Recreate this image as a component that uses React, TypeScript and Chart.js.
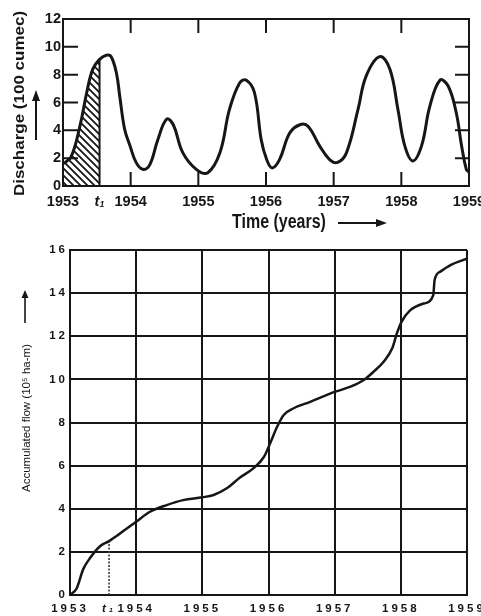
import { useEffect, useRef } from 'react';
import { Chart, registerables } from 'chart.js';

Chart.register(...registerables);

// ---------------- data ----------------
const yearTicks = [1953, 1954, 1955, 1956, 1957, 1958, 1959];
const t1Hydro = 1953.54;
const t1Mass = 1953.59;
const dischargeTicks = [0, 2, 4, 6, 8, 10, 12];
const flowTicks = [0, 2, 4, 6, 8, 10, 12, 14, 16];

const hydroYears = [
  1953.0, 1953.12, 1953.25, 1953.35, 1953.44, 1953.54, 1953.64, 1953.71, 1953.79, 1953.84,
  1953.91, 1953.99, 1954.08, 1954.18, 1954.28, 1954.4, 1954.53, 1954.63, 1954.77, 1954.97,
  1955.14, 1955.32, 1955.46, 1955.61, 1955.71, 1955.83, 1955.93, 1956.01, 1956.09, 1956.2,
  1956.35, 1956.5, 1956.62, 1956.79, 1956.94, 1957.06, 1957.19, 1957.36, 1957.48, 1957.68,
  1957.83, 1957.95, 1958.05, 1958.17, 1958.3, 1958.42, 1958.57, 1958.69, 1958.81, 1958.89,
  1958.96, 1959.0,
];
const hydroDischarge = [
  1.6, 2.1, 4.3, 6.7, 8.4, 9.1, 9.4, 9.3, 8.1, 6.4,
  4.1, 2.9, 1.7, 1.2, 1.5, 3.3, 4.8, 4.4, 2.4, 1.2,
  0.95, 2.4, 5.5, 7.4, 7.6, 6.7, 3.3, 1.9, 1.3, 1.9,
  3.8, 4.4, 4.3, 2.9, 1.9, 1.7, 2.4, 5.5, 7.9, 9.3,
  8.4, 5.5, 2.9, 1.8, 2.9, 5.7, 7.6, 7.2, 5.3, 2.9,
  1.2, 1.0,
];

const massYears = [
  1953.0, 1953.1, 1953.2, 1953.3, 1953.45, 1953.59, 1953.76, 1954.0, 1954.21, 1954.46,
  1954.71, 1955.0, 1955.17, 1955.37, 1955.57, 1955.77, 1955.93, 1956.02, 1956.13, 1956.23,
  1956.38, 1956.63, 1957.01, 1957.24, 1957.44, 1957.59, 1957.74, 1957.87, 1957.94, 1958.01,
  1958.14, 1958.35, 1958.49, 1958.51, 1958.6, 1958.75, 1959.0,
];
const massFlow = [
  0, 0.3, 1.2, 1.7, 2.25, 2.5, 2.86, 3.4, 3.86, 4.17,
  4.4, 4.53, 4.64, 4.95, 5.45, 5.87, 6.4, 7.0, 7.8, 8.35,
  8.66, 8.96, 9.43, 9.66, 9.97, 10.36, 10.82, 11.44, 12.13, 12.67,
  13.2, 13.52, 13.9, 14.6, 15.0, 15.3, 15.6,
];

// ---------------- styling ----------------
const INK = '#161616';
const SANS = "'Liberation Sans', Arial, sans-serif";

const near = (a: number, b: number) => Math.abs(a - b) < 1e-6;

function makeHatch(ctx: CanvasRenderingContext2D) {
  const s = 7;
  const c = document.createElement('canvas');
  c.width = s;
  c.height = s;
  const g = c.getContext('2d')!;
  g.strokeStyle = INK;
  g.lineWidth = 1.8;
  g.beginPath();
  g.moveTo(-1, -1);
  g.lineTo(s + 1, s + 1);
  g.moveTo(-1, s - 1);
  g.lineTo(1, s + 1);
  g.moveTo(s - 1, -1);
  g.lineTo(s + 1, 1);
  g.stroke();
  return ctx.createPattern(c, 'repeat')!;
}

function arrow(
  ctx: CanvasRenderingContext2D,
  x1: number, y1: number, x2: number, y2: number,
  headLen: number, headHalf: number, lw: number,
) {
  const ang = Math.atan2(y2 - y1, x2 - x1);
  ctx.save();
  ctx.strokeStyle = INK;
  ctx.fillStyle = INK;
  ctx.lineWidth = lw;
  ctx.beginPath();
  ctx.moveTo(x1, y1);
  ctx.lineTo(x2 - Math.cos(ang) * headLen * 0.7, y2 - Math.sin(ang) * headLen * 0.7);
  ctx.stroke();
  ctx.translate(x2, y2);
  ctx.rotate(ang);
  ctx.beginPath();
  ctx.moveTo(0, 0);
  ctx.lineTo(-headLen, -headHalf);
  ctx.lineTo(-headLen, headHalf);
  ctx.closePath();
  ctx.fill();
  ctx.restore();
}

// ---------------- plugins ----------------
const hydroDecor = {
  id: 'hydroDecor',
  beforeDatasetsDraw(chart: any) {
    const { ctx, chartArea: a, scales } = chart;
    const x = scales.x;
    const y = scales.y;
    const meta = chart.getDatasetMeta(0);
    const line = meta.dataset;
    if (line && line.updateControlPoints) line.updateControlPoints(a, 'x');
    const pts = meta.data;
    const xt = x.getPixelForValue(t1Hydro);
    const y0 = y.getPixelForValue(0);
    ctx.save();
    ctx.beginPath();
    ctx.rect(a.left, a.top, xt - a.left, y0 - a.top);
    ctx.clip();
    ctx.beginPath();
    ctx.moveTo(pts[0].x, pts[0].y);
    for (let i = 1; i < pts.length; i++) {
      const p = pts[i - 1];
      const q = pts[i];
      ctx.bezierCurveTo(p.cp2x, p.cp2y, q.cp1x, q.cp1y, q.x, q.y);
    }
    ctx.lineTo(a.right, y0);
    ctx.lineTo(a.left, y0);
    ctx.closePath();
    ctx.fillStyle = makeHatch(ctx);
    ctx.fill();
    ctx.restore();

    const pt = pts[hydroYears.indexOf(t1Hydro)];
    ctx.save();
    ctx.strokeStyle = INK;
    ctx.lineWidth = 2;
    ctx.beginPath();
    ctx.moveTo(xt, y0);
    ctx.lineTo(xt, pt.y);
    ctx.stroke();
    ctx.restore();
  },
  afterDraw(chart: any) {
    const { ctx, chartArea: a, scales } = chart;
    const x = scales.x;
    const y = scales.y;
    ctx.save();
    ctx.strokeStyle = INK;
    ctx.lineWidth = 2;
    ctx.strokeRect(a.left, a.top, a.right - a.left, a.bottom - a.top);
    ctx.beginPath();
    for (const v of dischargeTicks.slice(1, -1)) {
      const py = y.getPixelForValue(v);
      ctx.moveTo(a.left, py);
      ctx.lineTo(a.left + 15, py);
      ctx.moveTo(a.right - 14, py);
      ctx.lineTo(a.right, py);
    }
    for (const yr of yearTicks.slice(1, -1)) {
      const px = x.getPixelForValue(yr);
      ctx.moveTo(px, a.top);
      ctx.lineTo(px, a.top + 14);
      ctx.moveTo(px, a.bottom);
      ctx.lineTo(px, a.bottom - 14);
    }
    ctx.stroke();

    ctx.fillStyle = INK;
    // y title
    ctx.save();
    ctx.translate(a.left - 43, (a.top + a.bottom) / 2 + 1);
    ctx.scale(0.82, 1);
    ctx.rotate(-Math.PI / 2);
    ctx.font = `bold 17px ${SANS}`;
    ctx.textAlign = 'center';
    ctx.textBaseline = 'middle';
    ctx.fillText('Discharge (100 cumec)', 0, 0);
    ctx.restore();
    arrow(ctx, a.left - 27, a.top + 121, a.left - 27, a.top + 71, 11, 4, 2);

    // x title
    ctx.save();
    ctx.translate(a.left + 169, a.bottom + 42);
    ctx.scale(0.82, 1);
    ctx.font = `bold 19.5px ${SANS}`;
    ctx.textAlign = 'left';
    ctx.textBaseline = 'alphabetic';
    ctx.fillText('Time (years)', 0, 0);
    ctx.restore();
    arrow(ctx, a.left + 275, a.bottom + 37, a.left + 324, a.bottom + 37, 11, 4, 2);
    ctx.restore();
  },
};

const massDecor = {
  id: 'massDecor',
  beforeDraw(chart: any) {
    chart.ctx.letterSpacing = '3px';
  },
  afterDraw(chart: any) {
    const { ctx, chartArea: a } = chart;
    ctx.letterSpacing = '0px';
    ctx.save();
    ctx.fillStyle = INK;
    ctx.translate(a.left - 43, (a.top + a.bottom) / 2 - 4.5);
    ctx.rotate(-Math.PI / 2);
    ctx.font = `11.5px ${SANS}`;
    ctx.textAlign = 'center';
    ctx.textBaseline = 'middle';
    ctx.fillText('Accumulated flow (10\u2075 ha-m)', 0, 0);
    ctx.restore();
    arrow(ctx, a.left - 45, a.top + 73, a.left - 45, a.top + 40, 8, 3.5, 1.6);
  },
};

// ---------------- configs ----------------
function xTickList(t1: number) {
  return [yearTicks[0], t1, ...yearTicks.slice(1)];
}

function hydroConfig(): any {
  const pts = hydroYears.map((x, i) => ({ x, y: hydroDischarge[i] }));
  return {
    type: 'line',
    data: {
      datasets: [
        { data: pts, borderColor: INK, borderWidth: 3, pointRadius: 0, tension: 0.4, fill: false },
      ],
    },
    options: {
      responsive: false,
      animation: false,
      devicePixelRatio: 1,
      layout: { padding: { left: 0, top: 19, right: 31, bottom: 0 } },
      plugins: { legend: { display: false }, tooltip: { enabled: false } },
      scales: {
        x: {
          type: 'linear',
          min: 1953,
          max: 1959,
          grid: { display: false, drawTicks: false },
          border: { display: false },
          afterBuildTicks: (s: any) => {
            s.ticks = xTickList(t1Hydro).map((v) => ({ value: v }));
          },
          afterFit: (s: any) => {
            s.height = 49;
          },
          ticks: {
            autoSkip: false,
            maxRotation: 0,
            minRotation: 0,
            padding: 7,
            color: INK,
            font: (c: any) => ({
              family: SANS,
              size: 14.5,
              weight: 'bold',
              style: c.tick && near(c.tick.value, t1Hydro) ? 'italic' : 'normal',
            }),
            callback: (v: number) => (near(v, t1Hydro) ? 't\u2081' : String(v)),
          },
        },
        y: {
          type: 'linear',
          min: 0,
          max: 12,
          grid: { display: false, drawTicks: false },
          border: { display: false },
          afterBuildTicks: (s: any) => {
            s.ticks = dischargeTicks.map((v) => ({ value: v }));
          },
          afterFit: (s: any) => {
            s.width = 63;
          },
          ticks: {
            padding: 2,
            color: INK,
            font: { family: SANS, size: 14.5, weight: 'bold' },
          },
        },
      },
    },
    plugins: [hydroDecor],
  };
}

function massConfig(): any {
  const pts = massYears.map((x, i) => ({ x, y: massFlow[i] }));
  const t1Flow = massFlow[massYears.indexOf(t1Mass)];
  return {
    type: 'line',
    data: {
      datasets: [
        {
          data: pts,
          borderColor: INK,
          borderWidth: 2.5,
          pointRadius: 0,
          cubicInterpolationMode: 'monotone',
          fill: false,
        },
        {
          data: [
            { x: t1Mass, y: 0 },
            { x: t1Mass, y: t1Flow },
          ],
          borderColor: '#3a3a3a',
          borderWidth: 1.6,
          borderDash: [2, 1.5],
          pointRadius: 0,
          fill: false,
        },
      ],
    },
    options: {
      responsive: false,
      animation: false,
      devicePixelRatio: 1,
      layout: { padding: { left: 0, top: 10, right: 33, bottom: 0 } },
      plugins: { legend: { display: false }, tooltip: { enabled: false } },
      scales: {
        x: {
          type: 'linear',
          min: 1953,
          max: 1959,
          grid: {
            drawTicks: false,
            lineWidth: 2,
            color: (c: any) => (c.tick && near(c.tick.value, t1Mass) ? 'rgba(0,0,0,0)' : INK),
          },
          border: { display: true, color: INK, width: 2 },
          afterBuildTicks: (s: any) => {
            s.ticks = xTickList(t1Mass).map((v) => ({ value: v }));
          },
          afterFit: (s: any) => {
            s.height = 21;
          },
          ticks: {
            autoSkip: false,
            maxRotation: 0,
            minRotation: 0,
            padding: 7,
            color: INK,
            font: (c: any) => ({
              family: SANS,
              size: 11.5,
              weight: 'bold',
              style: c.tick && near(c.tick.value, t1Mass) ? 'italic' : 'normal',
            }),
            callback: (v: number) => (near(v, t1Mass) ? 't\u2081' : String(v)),
          },
        },
        y: {
          type: 'linear',
          min: 0,
          max: 16,
          grid: { drawTicks: false, lineWidth: 2, color: INK },
          border: { display: true, color: INK, width: 2 },
          afterBuildTicks: (s: any) => {
            s.ticks = flowTicks.map((v) => ({ value: v }));
          },
          afterFit: (s: any) => {
            s.width = 70;
          },
          ticks: {
            padding: 2,
            color: INK,
            font: { family: SANS, size: 11.5, weight: 'bold' },
          },
        },
      },
    },
    plugins: [massDecor],
  };
}

export default function App() {
  const topRef = useRef<HTMLCanvasElement>(null);
  const botRef = useRef<HTMLCanvasElement>(null);

  useEffect(() => {
    const top = new Chart(topRef.current!, hydroConfig());
    const bot = new Chart(botRef.current!, massConfig());
    return () => {
      top.destroy();
      bot.destroy();
    };
  }, []);

  return (
    <div
      style={{
        position: 'absolute',
        left: 0,
        top: 0,
        width: 481,
        height: 616,
        overflow: 'hidden',
        background: '#fff',
      }}
    >
      <canvas
        ref={topRef}
        width={500}
        height={235}
        style={{ position: 'absolute', left: 0, top: 0 }}
      />
      <canvas
        ref={botRef}
        width={500}
        height={376}
        style={{ position: 'absolute', left: 0, top: 240 }}
      />
    </div>
  );
}
